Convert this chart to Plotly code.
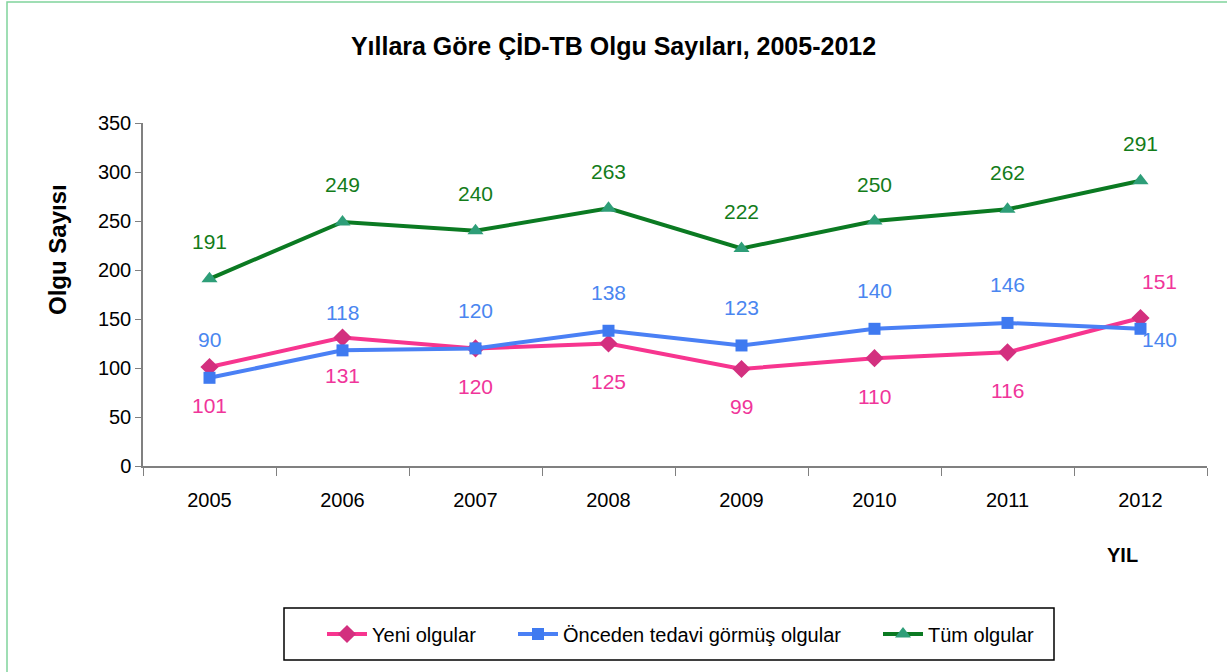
import plotly.graph_objects as go

years = ["2005", "2006", "2007", "2008", "2009", "2010", "2011", "2012"]
yeni = [101, 131, 120, 125, 99, 110, 116, 151]
onceden = [90, 118, 120, 138, 123, 140, 146, 140]
tum = [191, 249, 240, 263, 222, 250, 262, 291]

FONT = "Liberation Sans, Arial, sans-serif"
PINK_L, PINK_M, PINK_T = "#F7358F", "#D3307F", "#F0359A"
BLUE_L, BLUE_M, BLUE_T = "#4A80F5", "#3F7AF0", "#4A86F0"
GREEN_L, GREEN_M, GREEN_T = "#0B7A22", "#2E9E78", "#137C1A"

L, R, T, B = 143, 20, 123, 206
W, H = 1227, 672
PW, PH = W - L - R, H - T - B


def px_x(px):
    return (px - L) / PW


def px_y(py):
    return (H - B - py) / PH


fig = go.Figure()
fig.add_trace(go.Scatter(x=years, y=yeni, name="Yeni olgular", mode="lines+markers",
                         line=dict(color=PINK_L, width=4), legend="legend",
                         marker=dict(symbol="diamond", size=14, color=PINK_M)))
fig.add_trace(go.Scatter(x=years, y=onceden, name="Önceden tedavi görmüş olgular", mode="lines+markers",
                         line=dict(color=BLUE_L, width=4), legend="legend2",
                         marker=dict(symbol="square", size=12, color=BLUE_M)))
fig.add_trace(go.Scatter(x=years, y=tum, name="Tüm olgular", mode="lines+markers",
                         line=dict(color=GREEN_L, width=4), legend="legend3",
                         marker=dict(symbol="triangle-up", size=14, color=GREEN_M)))

annotations = []
n = len(years)
for i, (a, b, c) in enumerate(zip(yeni, onceden, tum)):
    last = i == n - 1
    annotations.append(dict(x=i, y=c, text=str(c), showarrow=False, yshift=37,
                            font=dict(family=FONT, size=21, color=GREEN_T)))
    if last:
        annotations.append(dict(x=i, y=a, text=str(a), showarrow=False, xshift=19, yshift=37,
                                font=dict(family=FONT, size=21, color=PINK_T)))
        annotations.append(dict(x=i, y=b, text=str(b), showarrow=False, xshift=19, yshift=-11,
                                font=dict(family=FONT, size=21, color=BLUE_T)))
    else:
        annotations.append(dict(x=i, y=a, text=str(a), showarrow=False, yshift=-38,
                                font=dict(family=FONT, size=21, color=PINK_T)))
        annotations.append(dict(x=i, y=b, text=str(b), showarrow=False, yshift=38,
                                font=dict(family=FONT, size=21, color=BLUE_T)))

annotations.append(dict(x=px_x(1122), y=px_y(555), xref="paper", yref="paper", text="<b>YIL</b>",
                        xanchor="center", yanchor="middle",
                        showarrow=False, font=dict(family=FONT, size=20, color="black")))
annotations.append(dict(x=px_x(57), y=px_y(250), xref="paper", yref="paper", text="<b>Olgu Sayısı</b>",
                        xanchor="center", yanchor="middle",
                        textangle=-90, showarrow=False, font=dict(family=FONT, size=24, color="black")))

leg_common = dict(orientation="h", yanchor="middle", xanchor="left", borderwidth=0,
                  bgcolor="rgba(0,0,0,0)", itemwidth=40,
                  font=dict(family=FONT, size=20, color="black"))

fig.update_layout(
    width=W, height=H,
    margin=dict(l=L, r=R, t=T, b=B, autoexpand=False),
    paper_bgcolor="white", plot_bgcolor="white",
    title=dict(text="<b>Yıllara Göre ÇİD-TB Olgu Sayıları, 2005-2012</b>", x=0.5, xref="container",
               y=1 - 46 / H, yanchor="middle",
               font=dict(family=FONT, size=25, color="black")),
    font=dict(family=FONT, size=19, color="black"),
    showlegend=True,
    legend=dict(x=px_x(322), y=px_y(634), **leg_common),
    legend2=dict(x=px_x(513), y=px_y(634), **leg_common),
    legend3=dict(x=px_x(878), y=px_y(634), **leg_common),
    annotations=annotations,
    shapes=[
        dict(type="rect", xref="paper", yref="paper", x0=px_x(7), y0=px_y(700), x1=px_x(1240), y1=px_y(2),
             line=dict(color="#80D49C", width=1.5), layer="below"),
        dict(type="rect", xref="paper", yref="paper", x0=px_x(284), y0=px_y(660), x1=px_x(1054), y1=px_y(608),
             line=dict(color="black", width=1.5), fillcolor="white", layer="below"),
    ],
)
fig.update_xaxes(type="category", range=[-0.5, len(years) - 0.5], showline=True, linecolor="#808080",
                 linewidth=1.5, ticks="outside",
                 tickson="boundaries", ticklen=8, tickcolor="#808080", showgrid=False, zeroline=False,
                 tickangle=0, automargin=False,
                 tickfont=dict(family=FONT, size=20, color="black"), ticklabelstandoff=15)
fig.update_yaxes(range=[0, 350], dtick=50, showline=True, linecolor="#808080", linewidth=1.5,
                 ticks="outside", ticklen=6, tickcolor="#808080", showgrid=False, zeroline=False,
                 automargin=False,
                 tickfont=dict(family=FONT, size=20, color="black"))

fig.write_html("out.html", config={"displayModeBar": False},
               post_script="document.body.style.margin='0';")
